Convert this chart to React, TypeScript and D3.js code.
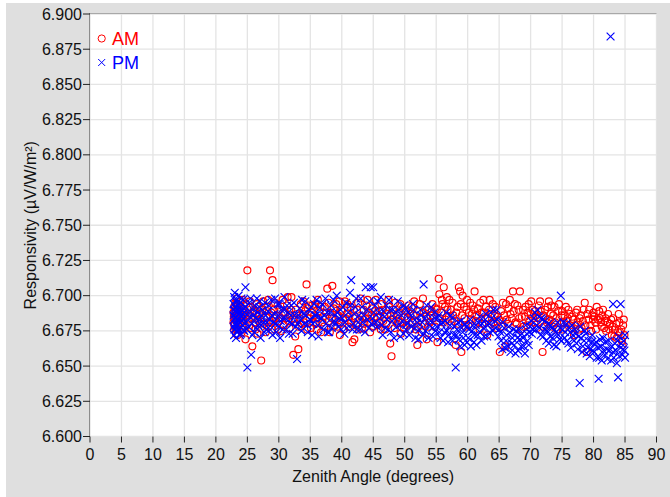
import React from "react";
import * as d3 from "d3";

const xTicks = [0, 5, 10, 15, 20, 25, 30, 35, 40, 45, 50, 55, 60, 65, 70, 75, 80, 85, 90];
const yTicks = [6.6, 6.625, 6.65, 6.675, 6.7, 6.725, 6.75, 6.775, 6.8, 6.825, 6.85, 6.875, 6.9];
const seriesNames = ["AM", "PM"];
const xTitle = "Zenith Angle (degrees)";
const yTitle = "Responsivity (µV/W/m²)";

const amPointsA: [number, number][] = [
  [22.8,6.681],[22.8,6.688],[22.9,6.676],[22.9,6.692],[23.0,6.684],[23.0,6.679],[23.1,6.695],[23.1,6.686],[23.2,6.673],[23.2,6.690],[23.3,6.682],[23.3,6.698],[23.4,6.687],[23.5,6.677],[23.5,6.693],[23.6,6.684],[23.7,6.689],[23.8,6.680],[23.9,6.696],[24.0,6.685],[24.1,6.674],[24.2,6.691],[24.3,6.683],[24.5,6.688],[24.7,6.669],[24.8,6.694],
  [25.0,6.718],[25.1,6.686],[25.3,6.679],[25.5,6.692],[25.8,6.664],[25.9,6.684],[26.1,6.689],[26.3,6.676],[26.5,6.694],[26.7,6.683],[26.9,6.687],[27.2,6.654],[27.4,6.690],[27.5,6.696],[27.7,6.680],[28.0,6.685],[28.2,6.692],[28.4,6.678],[28.6,6.718],[28.8,6.688],[29.0,6.711],[29.1,6.682],[29.4,6.695],[29.6,6.686],[29.9,6.676],
  [30.1,6.690],[30.3,6.684],[30.6,6.697],[30.8,6.679],[31.0,6.688],[31.3,6.693],[31.5,6.682],[31.8,6.686],[32.0,6.699],[32.3,6.658],[32.5,6.684],[32.7,6.690],[33.1,6.662],[33.2,6.678],[33.5,6.694],[33.8,6.687],[34.0,6.681],[34.4,6.708],[34.6,6.691],[34.9,6.684],
  [35.1,6.677],[35.3,6.693],[35.6,6.686],[35.9,6.680],[36.2,6.697],[36.4,6.689],[36.7,6.674],[37.0,6.685],[37.3,6.692],[37.7,6.705],[38.0,6.682],[38.2,6.688],[38.5,6.707],[38.8,6.679],[39.1,6.694],[39.4,6.686],[39.7,6.672],[39.9,6.690],
  [40.2,6.683],[40.5,6.696],[40.8,6.687],[41.1,6.678],[41.4,6.692],[41.7,6.667],[42.0,6.669],[42.1,6.684],[42.4,6.690],[42.7,6.676],[43.0,6.698],[43.3,6.685],[43.6,6.680],[43.9,6.693],[44.2,6.688],[44.5,6.674],[44.8,6.691],
  [45.1,6.684],[45.4,6.697],[45.7,6.679],[46.0,6.689],[46.3,6.694],[46.6,6.682],[46.9,6.676],[47.2,6.687],[47.5,6.692],[47.7,6.666],[47.9,6.657],[48.2,6.683],[48.5,6.695],[48.8,6.680],[49.1,6.688],[49.4,6.673],[49.7,6.691],
  [50.0,6.685],[50.3,6.679],[50.6,6.693],[50.9,6.687],[51.2,6.681],[51.5,6.696],[51.8,6.676],[52.0,6.665],[52.3,6.689],[52.6,6.684],[52.9,6.698],[53.2,6.680],[53.5,6.669],[53.8,6.690],[54.1,6.686],[54.4,6.694],[54.8,6.678],
  [55.2,6.667],[55.4,6.712],[55.5,6.701],[55.8,6.688],[56.0,6.694],[56.2,6.706],[56.5,6.683],[56.8,6.690],[57.1,6.697],[57.4,6.679],[57.7,6.686],[58.1,6.665],[58.4,6.692],[58.6,6.706],[58.8,6.703],[59.0,6.660],[59.2,6.700],[59.5,6.684],[59.8,6.690],
  [60.1,6.679],[60.4,6.695],[60.7,6.687],[61.1,6.703],[61.3,6.682],[61.6,6.691],[61.9,6.676],[62.2,6.688],[62.5,6.697],[62.8,6.684],[63.1,6.672],[63.4,6.690],[63.7,6.680],[64.0,6.694],[64.3,6.686],[64.6,6.677],
  [65.1,6.660],[65.3,6.689],[65.6,6.695],[66.0,6.664],[66.2,6.683],[66.5,6.691],[66.8,6.687],[67.2,6.703],[67.5,6.694],[67.8,6.680],[68.1,6.690],[68.3,6.703],[68.6,6.685],[68.9,6.678],[69.2,6.692],[69.5,6.688],[69.8,6.682],
  [70.1,6.696],[70.4,6.684],[70.7,6.689],[71.0,6.677],[71.3,6.693],[71.5,6.696],[71.9,6.660],[72.0,6.686],[72.3,6.690],[72.6,6.681],[72.9,6.696],[73.2,6.687],[73.5,6.678],[73.8,6.692],[74.1,6.684],[74.4,6.689],[74.8,6.680],
  [75.1,6.676],[75.4,6.686],[75.7,6.682],[76.0,6.690],[76.3,6.679],[76.6,6.685],[76.9,6.672],[77.2,6.688],[77.5,6.681],[77.8,6.684],[78.1,6.677],[78.4,6.690],[78.6,6.695],[78.9,6.660],[79.2,6.683],[79.5,6.679],[79.8,6.686],
  [80.0,6.688],[80.3,6.681],[80.5,6.692],[80.8,6.706],[81.0,6.684],[81.3,6.678],[81.5,6.690],[81.8,6.682],[82.0,6.675],[82.3,6.687],[82.6,6.680],[82.9,6.672],[83.1,6.684],[83.4,6.676],[83.7,6.670],[84.0,6.687],[84.2,6.674],[84.5,6.668],[84.7,6.679],[84.9,6.672],
];

const amPointsB: [number, number][] = [
  [22.85,6.685],[22.95,6.680],[23.05,6.690],[23.15,6.677],[23.25,6.694],[23.35,6.684],[23.45,6.672],[23.55,6.688],[23.65,6.679],[23.75,6.693],[23.85,6.686],[24.05,6.681],[24.25,6.697],[24.45,6.676],[24.65,6.686],
  [25.2,6.683],[25.4,6.696],[25.65,6.677],[26.0,6.690],[26.2,6.681],[26.4,6.687],[26.6,6.673],[26.8,6.692],[27.0,6.680],[27.6,6.684],[27.9,6.674],[28.1,6.689],[28.3,6.697],[28.7,6.681],[28.9,6.676],[29.2,6.690],[29.5,6.684],[29.8,6.693],
  [30.0,6.682],[30.4,6.675],[30.7,6.688],[31.1,6.684],[31.4,6.699],[31.7,6.677],[31.9,6.690],[32.2,6.683],[32.6,6.671],[32.9,6.687],[33.3,6.684],[33.6,6.680],[33.9,6.696],[34.2,6.689],[34.5,6.676],[34.8,6.693],
  [35.2,6.688],[35.5,6.681],[35.8,6.694],[36.0,6.676],[36.3,6.684],[36.6,6.692],[36.9,6.681],[37.2,6.678],[37.5,6.688],[37.9,6.695],[38.1,6.674],[38.4,6.684],[38.7,6.691],[39.0,6.683],[39.3,6.678],[39.6,6.696],[39.8,6.681],
  [40.0,6.689],[40.3,6.676],[40.6,6.684],[40.9,6.694],[41.2,6.685],[41.5,6.681],[41.9,6.690],[42.3,6.679],[42.6,6.695],[42.9,6.683],[43.2,6.677],[43.5,6.690],[43.8,6.684],[44.1,6.697],[44.4,6.681],[44.7,6.686],
  [45.0,6.678],[45.3,6.689],[45.6,6.685],[45.9,6.681],[46.2,6.676],[46.5,6.690],[46.8,6.685],[47.1,6.680],[47.4,6.697],[47.8,6.686],[48.1,6.690],[48.4,6.677],[48.7,6.686],[49.0,6.682],[49.3,6.694],[49.6,6.681],[49.9,6.677],
  [50.2,6.689],[50.5,6.684],[50.8,6.676],[51.1,6.692],[51.4,6.686],[51.7,6.682],[52.1,6.678],[52.4,6.694],[52.7,6.674],[53.0,6.688],[53.4,6.685],[53.7,6.678],[54.0,6.681],[54.3,6.689],[54.6,6.684],[54.9,6.691],
  [55.1,6.690],[55.6,6.684],[55.9,6.697],[56.1,6.681],[56.4,6.692],[56.7,6.699],[57.0,6.685],[57.3,6.690],[57.6,6.695],[57.9,6.682],[58.2,6.688],[58.5,6.680],[58.9,6.694],[59.1,6.686],[59.4,6.692],[59.7,6.678],[59.9,6.697],
  [60.2,6.688],[60.5,6.683],[60.8,6.693],[61.0,6.690],[61.4,6.686],[61.7,6.681],[62.0,6.695],[62.3,6.680],[62.6,6.688],[62.9,6.692],[63.2,6.684],[63.5,6.697],[63.8,6.687],[64.1,6.681],[64.4,6.692],[64.8,6.685],
  [65.0,6.683],[65.4,6.678],[65.8,6.686],[66.1,6.694],[66.4,6.680],[66.7,6.697],[67.0,6.684],[67.3,6.689],[67.6,6.681],[67.9,6.693],[68.2,6.684],[68.5,6.676],[68.8,6.690],[69.1,6.685],[69.4,6.679],[69.7,6.694],
  [70.0,6.687],[70.3,6.690],[70.6,6.681],[70.9,6.686],[71.2,6.684],[71.6,6.689],[72.1,6.678],[72.4,6.684],[72.7,6.692],[73.0,6.683],[73.3,6.693],[73.6,6.686],[73.9,6.681],[74.2,6.676],[74.5,6.694],[74.9,6.686],
  [75.0,6.689],[75.3,6.681],[75.6,6.692],[75.9,6.684],[76.2,6.687],[76.5,6.677],[76.8,6.683],[77.1,6.679],[77.4,6.690],[77.7,6.676],[78.0,6.686],[78.3,6.682],[78.7,6.679],[79.0,6.687],[79.3,6.690],[79.6,6.675],[79.9,6.683],
  [80.1,6.685],[80.4,6.676],[80.7,6.683],[80.9,6.689],[81.2,6.681],[81.4,6.686],[81.7,6.677],[81.9,6.684],[82.2,6.681],[82.5,6.676],[82.8,6.683],[83.0,6.678],[83.3,6.671],[83.6,6.680],[83.9,6.674],[84.1,6.681],[84.4,6.676],[84.6,6.665],[84.8,6.683],
];

const pmPointsA: [number, number][] = [
  [22.8,6.678],[22.8,6.686],[22.8,6.694],[22.9,6.672],[22.9,6.683],[22.9,6.699],[23.0,6.676],[23.0,6.689],[23.0,6.702],[23.1,6.680],[23.1,6.692],[23.2,6.670],[23.2,6.685],[23.3,6.697],[23.3,6.678],[23.4,6.688],[23.4,6.674],[23.5,6.693],[23.5,6.682],[23.6,6.700],[23.6,6.687],[23.7,6.676],[23.8,6.691],[23.8,6.681],[23.9,6.695],[24.0,6.673],[24.0,6.686],[24.1,6.690],[24.2,6.679],[24.3,6.697],[24.4,6.684],[24.5,6.675],[24.6,6.692],[24.7,6.706],[24.8,6.681],
  [25.0,6.649],[25.1,6.688],[25.3,6.695],[25.6,6.658],[25.7,6.680],[25.9,6.690],[26.1,6.674],[26.3,6.684],[26.5,6.698],[26.7,6.679],[26.9,6.692],[27.1,6.670],[27.3,6.686],[27.6,6.681],[27.8,6.695],[28.0,6.676],[28.3,6.689],[28.5,6.683],[28.8,6.697],[29.0,6.672],[29.3,6.687],[29.5,6.680],[29.8,6.694],
  [30.0,6.678],[30.2,6.670],[30.4,6.690],[30.7,6.684],[30.9,6.699],[31.2,6.676],[31.5,6.688],[31.7,6.681],[32.0,6.693],[32.2,6.673],[32.5,6.686],[32.9,6.655],[33.0,6.680],[33.3,6.691],[33.6,6.675],[33.9,6.687],[34.2,6.696],[34.5,6.679],[34.8,6.690],
  [35.0,6.683],[35.3,6.672],[35.6,6.694],[35.9,6.686],[36.2,6.679],[36.5,6.691],[36.8,6.684],[37.1,6.676],[37.4,6.698],[37.7,6.688],[38.0,6.674],[38.3,6.693],[38.6,6.681],[38.9,6.686],[39.2,6.700],[39.5,6.678],[39.8,6.690],
  [40.1,6.684],[40.4,6.673],[40.7,6.695],[41.0,6.688],[41.3,6.702],[41.5,6.711],[41.8,6.680],[42.1,6.692],[42.4,6.676],[42.7,6.686],[43.0,6.698],[43.3,6.681],[43.8,6.706],[44.0,6.690],[44.3,6.677],[44.6,6.706],[44.9,6.684],[45.0,6.706],
  [45.3,6.693],[45.6,6.678],[45.9,6.688],[46.2,6.699],[46.5,6.672],[46.8,6.685],[47.1,6.693],[47.4,6.676],[47.7,6.690],[48.0,6.682],[48.3,6.670],[48.6,6.688],[48.9,6.696],[49.2,6.679],[49.5,6.686],[49.8,6.673],
  [50.1,6.691],[50.4,6.680],[50.7,6.672],[51.0,6.686],[51.3,6.694],[51.6,6.677],[51.9,6.684],[52.2,6.669],[52.5,6.690],[52.8,6.681],[53.0,6.708],[53.3,6.675],[53.6,6.687],[53.9,6.679],[54.2,6.692],[54.5,6.671],[54.8,6.684],
  [55.1,6.678],[55.4,6.686],[55.7,6.670],[56.0,6.681],[56.3,6.674],[56.6,6.688],[56.9,6.667],[57.2,6.679],[57.5,6.684],[57.8,6.672],[58.1,6.649],[58.3,6.676],[58.6,6.669],[58.9,6.682],[59.2,6.674],[59.5,6.665],[59.8,6.678],
  [60.1,6.670],[60.4,6.683],[60.7,6.675],[61.0,6.667],[61.3,6.679],[61.6,6.672],[61.9,6.685],[62.2,6.668],[62.5,6.677],[62.8,6.683],[63.1,6.671],[63.4,6.680],[63.7,6.688],[64.0,6.675],[64.3,6.682],[64.6,6.690],
  [65.0,6.676],[65.3,6.668],[65.6,6.681],[65.9,6.663],[66.2,6.672],[66.5,6.678],[66.8,6.660],[67.1,6.670],[67.4,6.665],[67.7,6.675],[68.0,6.661],[68.3,6.669],[68.6,6.673],[68.9,6.664],[69.2,6.679],[69.5,6.668],[69.8,6.674],
  [70.1,6.682],[70.4,6.676],[70.7,6.688],[71.0,6.679],[71.3,6.685],[71.6,6.672],[71.9,6.683],[72.2,6.676],[72.5,6.668],[72.8,6.680],[73.1,6.671],[73.4,6.677],[73.7,6.665],[74.0,6.674],[74.3,6.681],[74.6,6.669],[74.8,6.700],
  [75.1,6.676],[75.4,6.670],[75.7,6.680],[76.0,6.666],[76.3,6.674],[76.6,6.679],[76.9,6.668],[77.2,6.673],[77.5,6.662],[77.8,6.638],[78.0,6.670],[78.3,6.664],[78.6,6.675],[78.9,6.659],[79.2,6.668],[79.5,6.662],[79.8,6.672],
  [80.1,6.660],[80.4,6.667],[80.8,6.641],[80.9,6.656],[81.2,6.664],[81.5,6.670],[81.8,6.658],[82.1,6.662],[82.4,6.668],[82.7,6.884],[82.8,6.654],[83.1,6.694],[83.1,6.660],[83.4,6.666],[83.7,6.652],[83.9,6.642],[84.0,6.671],[84.3,6.694],[84.3,6.663],[84.6,6.658],[84.8,6.668],[85.0,6.672],[84.9,6.661],
];

const pmPointsB: [number, number][] = [
  [22.85,6.690],[22.95,6.676],[23.05,6.684],[23.15,6.696],[23.25,6.680],[23.35,6.690],[23.45,6.683],[23.55,6.676],[23.65,6.694],[23.75,6.684],[23.85,6.672],[23.95,6.688],[24.05,6.698],[24.15,6.682],[24.25,6.687],[24.35,6.676],[24.55,6.688],[24.75,6.692],[24.9,6.676],
  [25.2,6.678],[25.4,6.685],[25.5,6.698],[25.8,6.672],[26.0,6.686],[26.2,6.693],[26.4,6.677],[26.6,6.688],[26.8,6.683],[27.0,6.696],[27.2,6.679],[27.4,6.690],[27.7,6.674],[27.9,6.686],[28.1,6.681],[28.4,6.693],[28.6,6.676],[28.9,6.686],[29.1,6.681],[29.4,6.698],[29.6,6.674],[29.9,6.686],
  [30.1,6.694],[30.3,6.682],[30.6,6.676],[30.8,6.690],[31.0,6.684],[31.3,6.693],[31.6,6.673],[31.9,6.686],[32.1,6.680],[32.4,6.695],[32.7,6.678],[33.1,6.686],[33.4,6.683],[33.7,6.697],[34.0,6.680],[34.3,6.686],[34.6,6.674],[34.9,6.683],
  [35.1,6.692],[35.4,6.680],[35.7,6.686],[36.0,6.697],[36.3,6.671],[36.6,6.684],[36.9,6.694],[37.2,6.686],[37.5,6.680],[37.8,6.674],[38.1,6.688],[38.4,6.677],[38.7,6.697],[39.0,6.681],[39.3,6.688],[39.6,6.684],[39.9,6.676],
  [40.2,6.692],[40.5,6.681],[40.8,6.677],[41.1,6.684],[41.4,6.693],[41.7,6.676],[42.0,6.687],[42.3,6.698],[42.6,6.681],[42.9,6.676],[43.2,6.692],[43.5,6.686],[43.7,6.674],[44.1,6.683],[44.4,6.696],[44.7,6.680],[45.1,6.688],
  [45.4,6.681],[45.7,6.696],[46.0,6.684],[46.3,6.679],[46.6,6.689],[46.9,6.677],[47.2,6.683],[47.5,6.697],[47.8,6.674],[48.1,6.690],[48.4,6.684],[48.7,6.678],[49.0,6.690],[49.3,6.671],[49.6,6.682],[49.9,6.693],
  [50.2,6.676],[50.5,6.688],[50.8,6.683],[51.1,6.678],[51.4,6.690],[51.7,6.670],[52.0,6.681],[52.3,6.676],[52.6,6.686],[52.9,6.672],[53.2,6.684],[53.5,6.693],[53.8,6.670],[54.1,6.682],[54.4,6.677],[54.7,6.688],[54.9,6.675],
  [55.2,6.684],[55.5,6.674],[55.8,6.680],[56.1,6.668],[56.4,6.682],[56.7,6.675],[57.0,6.672],[57.3,6.686],[57.6,6.668],[57.9,6.678],[58.2,6.672],[58.5,6.681],[58.8,6.664],[59.0,6.677],[59.3,6.670],[59.6,6.680],[59.9,6.667],
  [60.2,6.676],[60.5,6.664],[60.8,6.679],[61.1,6.672],[61.4,6.665],[61.7,6.681],[62.0,6.674],[62.3,6.680],[62.6,6.671],[62.9,6.687],[63.2,6.679],[63.5,6.674],[63.8,6.684],[64.1,6.690],[64.4,6.677],[64.7,6.683],[64.9,6.671],
  [65.2,6.674],[65.5,6.662],[65.8,6.677],[66.1,6.668],[66.4,6.664],[66.7,6.674],[67.0,6.666],[67.3,6.676],[67.6,6.659],[67.9,6.670],[68.2,6.676],[68.5,6.664],[68.8,6.670],[69.1,6.659],[69.4,6.673],[69.7,6.665],[69.9,6.678],
  [70.2,6.673],[70.5,6.684],[70.8,6.676],[71.1,6.690],[71.4,6.677],[71.7,6.684],[72.0,6.671],[72.3,6.682],[72.6,6.675],[72.9,6.666],[73.2,6.679],[73.5,6.670],[73.8,6.676],[74.1,6.664],[74.4,6.672],[74.7,6.677],[74.9,6.668],
  [75.2,6.681],[75.5,6.674],[75.8,6.668],[76.1,6.677],[76.4,6.663],[76.7,6.672],[77.0,6.676],[77.3,6.666],[77.6,6.671],[77.9,6.678],[78.2,6.660],[78.5,6.668],[78.8,6.673],[79.1,6.663],[79.4,6.657],[79.7,6.667],[79.9,6.661],
  [80.2,6.666],[80.5,6.656],[80.7,6.663],[81.0,6.669],[81.3,6.654],[81.6,6.661],[81.9,6.667],[82.2,6.655],[82.5,6.661],[82.9,6.664],[83.2,6.656],[83.5,6.661],[83.8,6.668],[84.1,6.657],[84.4,6.666],[84.7,6.662],[85.0,6.656],
];

const amPoints = amPointsA.concat(amPointsB);
const pmPoints = pmPointsA.concat(pmPointsB);

const W = 670;
const H = 497;
const PL = 90;
const PR = 656.5;
const PT = 14;
const PB = 436.5;
const FONT = "'Liberation Sans', Arial, Helvetica, sans-serif";
const AM_COLOR = "#ff0000";
const PM_COLOR = "#0000ff";

export default function App() {
  const x = d3.scaleLinear().domain([0, 90]).range([PL, PR]);
  const y = d3.scaleLinear().domain([6.6, 6.9]).range([PB, PT]);
  const fmt = d3.format(".3f");
  const s = 3.9;

  return (
    <svg
      width={W}
      height={H}
      style={{ position: "absolute", left: 0, top: 0, display: "block" }}
      fontFamily={FONT}
    >
      <rect x={0} y={0} width={W} height={H} fill="#ffffff" />
      <rect x={6} y={3} width={W - 6} height={H - 3} fill="#dfdfdf" />
      <rect x={PL} y={PT} width={PR - PL} height={PB - PT} fill="#ffffff" />

      {xTicks.map((t) => (
        <line key={"gx" + t} x1={x(t)} x2={x(t)} y1={PT} y2={PB} stroke="#e4e4e4" strokeWidth={1.3} />
      ))}
      {yTicks.map((t) => (
        <line key={"gy" + t} x1={PL} x2={PR} y1={y(t)} y2={y(t)} stroke="#e4e4e4" strokeWidth={1.3} />
      ))}

      <line x1={PL} x2={PR} y1={PT - 0.5} y2={PT - 0.5} stroke="#a8a8a8" strokeWidth={1} />
      <line x1={PL - 0.5} x2={PL - 0.5} y1={PT - 1} y2={PB} stroke="#8c8c8c" strokeWidth={1} />

      {xTicks.map((t) => (
        <g key={"tx" + t}>
          <line x1={x(t)} x2={x(t)} y1={PB} y2={PB + 6} stroke="#222" strokeWidth={1} />
          <text x={x(t)} y={460} textAnchor="middle" fontSize={16} fill="#111">
            {t}
          </text>
        </g>
      ))}
      {yTicks.map((t) => (
        <g key={"ty" + t}>
          <line x1={PL - 7} x2={PL} y1={y(t)} y2={y(t)} stroke="#222" strokeWidth={1} />
          <text x={PL - 8} y={y(t) + 5.5} textAnchor="end" fontSize={16} fill="#111">
            {fmt(t)}
          </text>
        </g>
      ))}

      <text x={(PL + PR) / 2} y={482} textAnchor="middle" fontSize={16} fill="#111">
        {xTitle}
      </text>
      <text
        transform={`translate(36, ${(PT + PB) / 2}) rotate(-90)`}
        textAnchor="middle"
        fontSize={16}
        fill="#111"
      >
        {yTitle}
      </text>

      <defs>
        <clipPath id="plotclip">
          <rect x={PL} y={PT} width={PR - PL} height={PB - PT} />
        </clipPath>
      </defs>
      <g clipPath="url(#plotclip)">
        {amPoints.map((p, i) => (
          <circle key={"am" + i} cx={x(p[0])} cy={y(p[1])} r={3.5} fill="none" stroke={AM_COLOR} strokeWidth={1.15} />
        ))}
        {pmPoints.map((p, i) => {
          const cx = x(p[0]);
          const cy = y(p[1]);
          return (
            <path
              key={"pm" + i}
              d={`M${cx - s},${cy - s}L${cx + s},${cy + s}M${cx - s},${cy + s}L${cx + s},${cy - s}`}
              stroke={PM_COLOR}
              strokeWidth={1.15}
              fill="none"
            />
          );
        })}
      </g>

      <circle cx={101.7} cy={38.5} r={3.6} fill="none" stroke={AM_COLOR} strokeWidth={1} />
      <text x={112} y={44.5} fontSize={18} fill={AM_COLOR}>
        {seriesNames[0]}
      </text>
      <path
        d={`M${101.7 - 3.5},${62.5 - 3.5}L${101.7 + 3.5},${62.5 + 3.5}M${101.7 - 3.5},${62.5 + 3.5}L${101.7 + 3.5},${62.5 - 3.5}`}
        stroke={PM_COLOR}
        strokeWidth={1}
      />
      <text x={112} y={69} fontSize={18} fill={PM_COLOR}>
        {seriesNames[1]}
      </text>
    </svg>
  );
}
